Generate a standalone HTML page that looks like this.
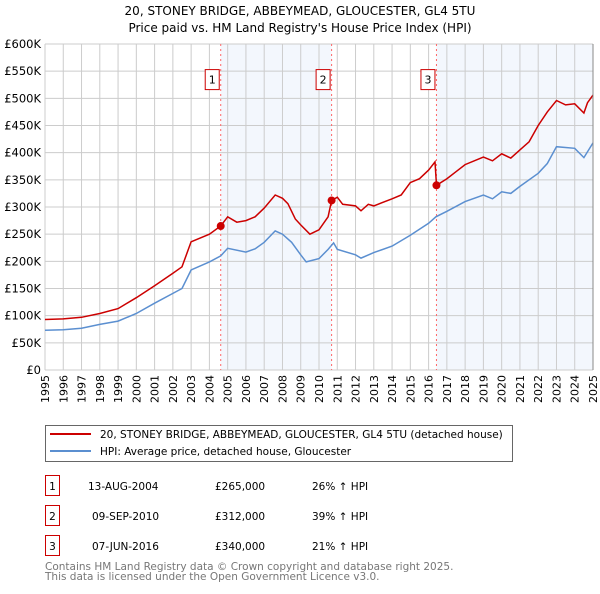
<!DOCTYPE html>
<html><head><meta charset="utf-8"><style>
body{margin:0;background:#fff;font-family:"DejaVu Sans","Liberation Sans",sans-serif;}
svg text{font-family:"DejaVu Sans","Liberation Sans",sans-serif;}
</style></head><body>
<svg id="c" width="600" height="590" xmlns="http://www.w3.org/2000/svg">
<text x="300" y="15" text-anchor="middle" font-size="12">20, STONEY BRIDGE, ABBEYMEAD, GLOUCESTER, GL4 5TU</text>
<text x="300" y="32" text-anchor="middle" font-size="12">Price paid vs. HM Land Registry's House Price Index (HPI)</text>
<g id="plot"></g>
<g>
<rect x="45.5" y="425.5" width="467" height="36" fill="#fff" stroke="#666"/>
<line x1="50" y1="434" x2="91" y2="434" stroke="#cc0000" stroke-width="2"/>
<text x="100" y="438" font-size="10.5">20, STONEY BRIDGE, ABBEYMEAD, GLOUCESTER, GL4 5TU (detached house)</text>
<line x1="50" y1="451" x2="91" y2="451" stroke="#5b8fd0" stroke-width="2"/>
<text x="100" y="455" font-size="10.5">HPI: Average price, detached house, Gloucester</text>
</g>
<g font-size="10.5">
<rect x="45.5" y="475.5" width="14" height="20" fill="#fff" stroke="#cc0000"/><text x="52.5" y="490" text-anchor="middle">1</text>
<text x="88" y="490">13-AUG-2004</text><text x="215" y="490">£265,000</text><text x="312" y="490">26% ↑ HPI</text>
<rect x="45.5" y="505.5" width="14" height="20" fill="#fff" stroke="#cc0000"/><text x="52.5" y="520" text-anchor="middle">2</text>
<text x="92" y="520">09-SEP-2010</text><text x="215" y="520">£312,000</text><text x="312" y="520">39% ↑ HPI</text>
<rect x="45.5" y="535.5" width="14" height="20" fill="#fff" stroke="#cc0000"/><text x="52.5" y="550" text-anchor="middle">3</text>
<text x="92" y="550">07-JUN-2016</text><text x="215" y="550">£340,000</text><text x="312" y="550">21% ↑ HPI</text>
</g>
<text x="45" y="570" font-size="10.5" fill="#777">Contains HM Land Registry data © Crown copyright and database right 2025.</text>
<text x="45" y="580" font-size="10.5" fill="#777">This data is licensed under the Open Government Licence v3.0.</text>
</svg>
<script>
const yTicks=[0,50,100,150,200,250,300,350,400,450,500,550,600];
const yLabels=["£0","£50K","£100K","£150K","£200K","£250K","£300K","£350K","£400K","£450K","£500K","£550K","£600K"];
const years=[1995,1996,1997,1998,1999,2000,2001,2002,2003,2004,2005,2006,2007,2008,2009,2010,2011,2012,2013,2014,2015,2016,2017,2018,2019,2020,2021,2022,2023,2024,2025];
const saleDates=[2004.62,2010.69,2016.43];
const saleValues=[265,312,340];
const saleLabels=["1","2","3"];
const redT=[1995,1996,1997,1998,1999,2000,2001,2002,2002.5,2003,2004,2004.62,2005,2005.5,2006,2006.5,2007,2007.6,2008,2008.3,2008.7,2009,2009.5,2010,2010.5,2010.69,2011,2011.3,2012,2012.3,2012.7,2013,2014,2014.5,2015,2015.5,2016,2016.35,2016.43,2017,2017.5,2018,2019,2019.5,2020,2020.5,2021,2021.5,2022,2022.5,2023,2023.5,2024,2024.5,2024.7,2025];
const redV=[93,94,97,104,113,133,155,178,190,236,250,265,282,272,275,282,298,322,316,306,278,267,250,258,282,312,318,305,302,293,305,302,315,322,345,352,368,383,340,352,365,378,392,385,398,390,405,420,450,475,496,488,490,473,492,506];
const hpiT=[1995,1996,1997,1998,1999,2000,2001,2002,2002.5,2003,2004,2004.62,2005,2006,2006.5,2007,2007.6,2008,2008.5,2009,2009.3,2010,2010.5,2010.8,2011,2012,2012.3,2013,2014,2015,2016,2016.4,2017,2018,2019,2019.5,2020,2020.5,2021,2022,2022.5,2023,2024,2024.5,2025];
const hpiV=[73,74,77,84,90,104,123,141,150,184,199,210,224,217,223,235,256,250,235,212,199,205,222,234,222,212,206,216,228,248,270,282,292,310,322,315,328,325,338,362,380,411,408,391,418];

const X0=45,X1=593,Y0=370,Y1=44;
const x=t=>X0+(t-1995)/30*(X1-X0);
const y=v=>Y0-v/600*(Y0-Y1);
const NS="http://www.w3.org/2000/svg";
const g=document.getElementById('plot');
function mk(tag,attrs){const e=document.createElementNS(NS,tag);for(const k in attrs)e.setAttribute(k,attrs[k]);g.appendChild(e);return e;}
// shading
let r=mk('rect',{x:x(saleDates[0]),y:Y1,width:x(saleDates[1])-x(saleDates[0]),height:Y0-Y1,fill:'#eef3fc',opacity:0.7});


r=mk('rect',{x:x(saleDates[2]),y:Y1,width:X1-x(saleDates[2]),height:Y0-Y1,fill:'#eef3fc',opacity:0.7});


// grid
years.forEach(yr=>{const l=mk('line',{x1:x(yr),x2:x(yr),y1:Y1,y2:Y0,stroke:'#cccccc'});


const t=mk('text',{x:0,y:0,'font-size':11,'text-anchor':'end',transform:`translate(${x(yr)+4},${Y0+5}) rotate(-90)`});
t.textContent=yr;

});
yTicks.forEach((v,i)=>{const l=mk('line',{x1:X0,x2:X1,y1:y(v),y2:y(v),stroke:'#cccccc'});


const t=mk('text',{x:X0-4,y:y(v)+4,'font-size':11.5,'text-anchor':'end'});
t.textContent=yLabels[i];

});
// sale lines
saleDates.forEach((d,i)=>{const l=mk('line',{x1:x(d),x2:x(d),y1:Y1,y2:Y0,stroke:'#ff6666','stroke-dasharray':'2,3'});


const b=mk('rect',{x:x(d)-15.5,y:y(540)-7,width:14,height:20,fill:'#fff',stroke:'#cc0000'});


const t=mk('text',{x:x(d)-8.5,y:y(540)+7,'font-size':11,'text-anchor':'middle'});
t.textContent=saleLabels[i];

});
const pts=(T,V)=>T.map((t,i)=>x(t).toFixed(1)+','+y(V[i]).toFixed(1)).join(' ');
let p=mk('polyline',{points:pts(hpiT,hpiV),fill:'none',stroke:'#5b8fd0','stroke-width':1.5});


p=mk('polyline',{points:pts(redT,redV),fill:'none',stroke:'#cc0000','stroke-width':1.5});


saleDates.forEach((d,i)=>{const c=mk('circle',{cx:x(d),cy:y(saleValues[i]),r:4,fill:'#cc0000'});

});
let ax=mk('line',{x1:X1,x2:X1,y1:Y1,y2:Y0,stroke:'#888'});


</script>
</body></html>
